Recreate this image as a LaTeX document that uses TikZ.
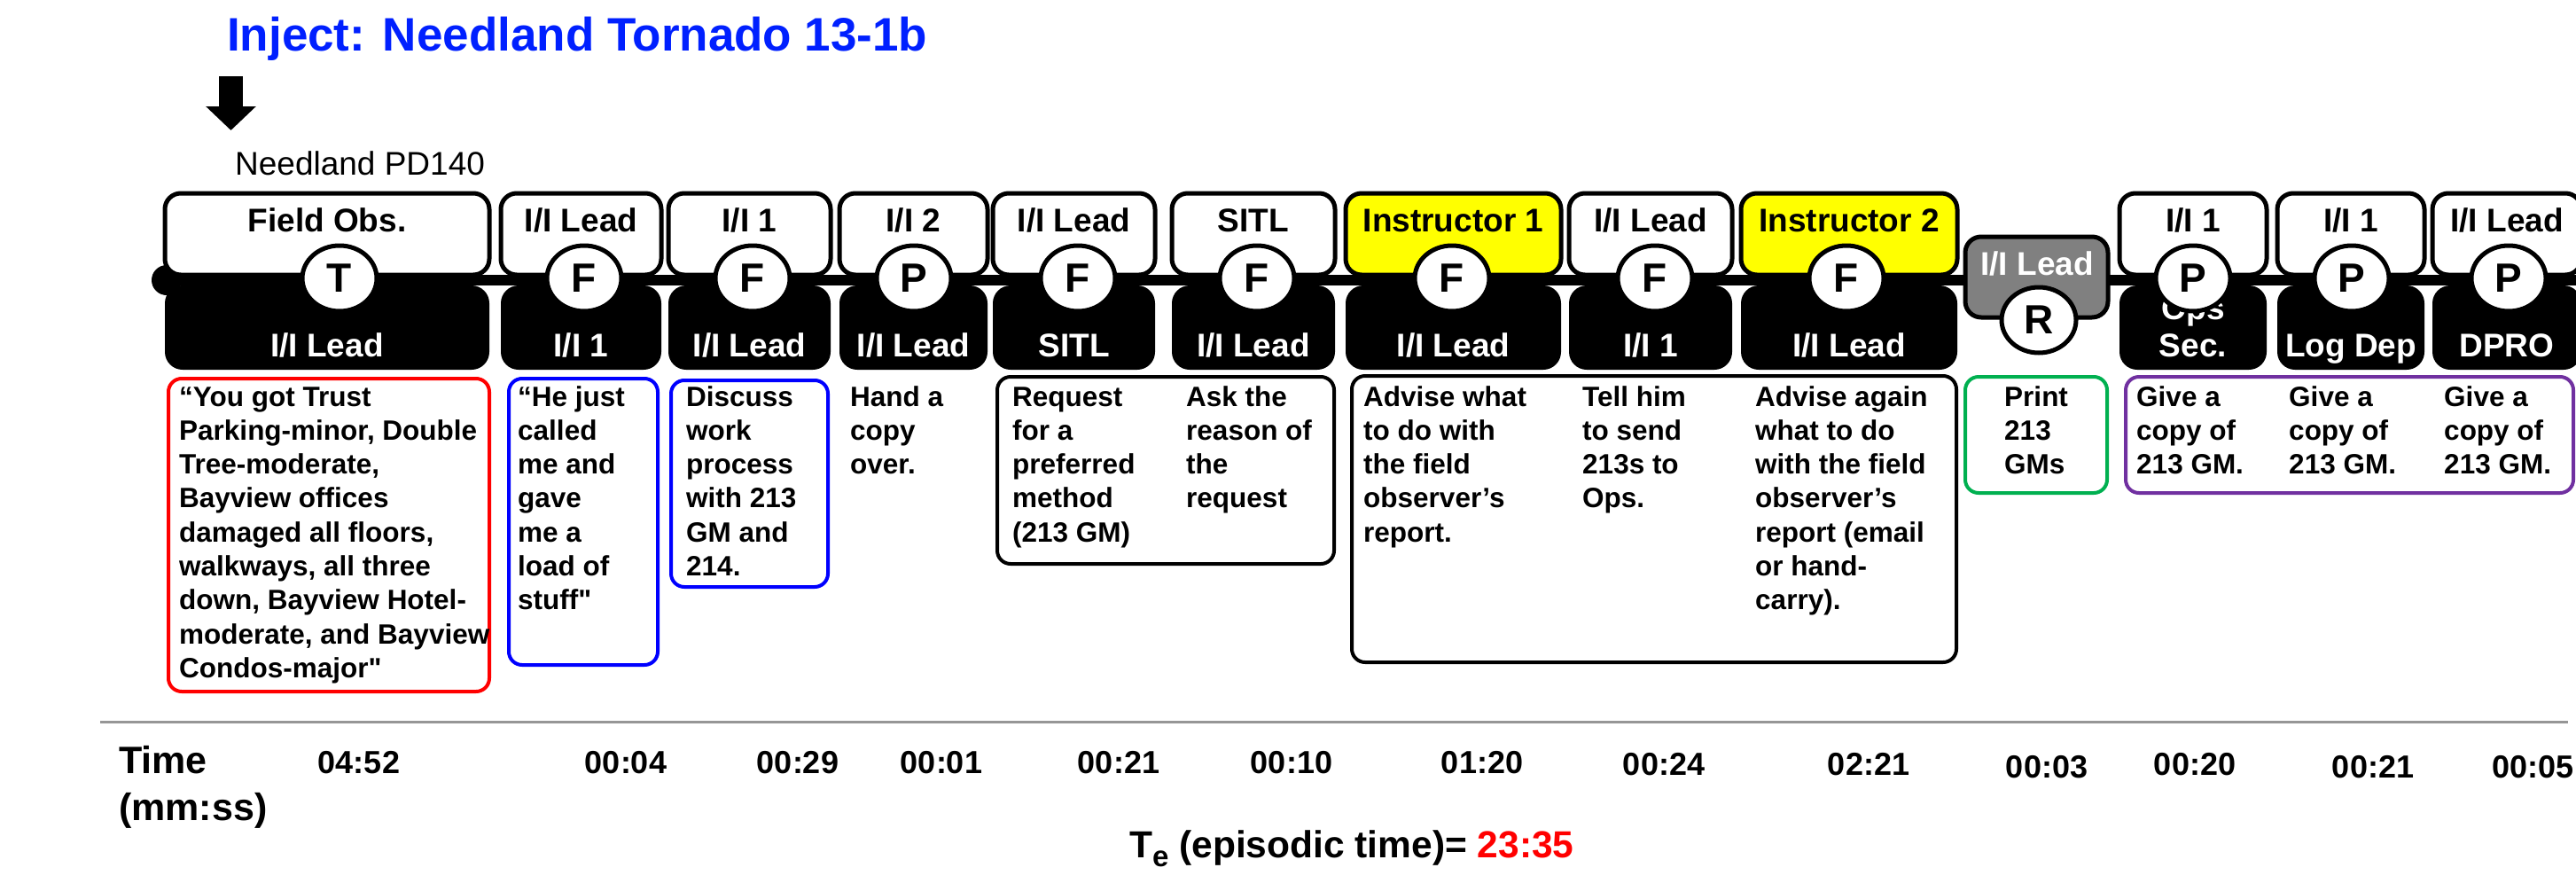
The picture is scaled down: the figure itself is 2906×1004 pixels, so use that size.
\documentclass[tikz,border=0pt]{standalone}
\usepackage{fontspec}
\setmainfont{Liberation Sans}[Ligatures=TeXOff]
\usetikzlibrary{fit,shapes.geometric,arrows.meta}
\definecolor{titleblue}{RGB}{0,32,255}
\definecolor{boxblue}{RGB}{0,0,255}
\definecolor{boxred}{RGB}{255,0,0}
\definecolor{boxgreen}{RGB}{0,176,80}
\definecolor{boxpurple}{RGB}{112,48,160}
\definecolor{instyellow}{RGB}{255,255,0}
\definecolor{rgray}{RGB}{128,128,128}
\definecolor{axisgray}{RGB}{150,150,150}
\newcommand{\fs}[2]{\fontsize{#1}{#2}\selectfont}
\newcommand{\tcol}[6]{%
  \node[topbox, fill=#4, fit={(#2,218) (#3,310)}] (#1t) {};
  \node[botbox, fit={(#2,322) (#3,417)}] (#1b) {};
  \node[toplabel] (#1tl) at ({(#2+#3)/2},261) {#5};
  \node[botlabel] (#1bl) at ({(#2+#3)/2},402) {#6};
}
\newcommand{\mydesc}[3]{%
  \node[anchor=base west, inner sep=0pt] (#1) at #2 {\parbox[t]{400pt}{\raggedright\fs{31.5}{38.3}\bfseries #3}};
}
\begin{document}
\begin{tikzpicture}[x=1pt,y=-1pt,
  topbox/.style={draw=black, line width=5pt, rounded corners=18pt, inner sep=0pt},
  botbox/.style={fill=black, rounded corners=20pt, inner sep=0pt},
  toplabel/.style={font={\fs{37}{44}\bfseries}, anchor=base, inner sep=0pt},
  botlabel/.style={font={\fs{37}{44}\bfseries}, anchor=base, inner sep=0pt, text=white},
  letter/.style={ellipse, draw=black, line width=5pt, fill=white, inner sep=0pt,
    minimum width=84pt, minimum height=74pt, font={\fs{46}{50}\bfseries}},
  descbox/.style={draw=#1, line width=4pt, rounded corners=15pt, inner sep=0pt},
  timeval/.style={font={\fs{36}{42}\bfseries}, anchor=base, inner sep=0pt}
]
\useasboundingbox (0,0) rectangle (2906,1004);
\clip (0,0) rectangle (2906,1004);

% title and inject arrow
\node[anchor=base west, inner sep=0pt, font={\fs{53}{60}\bfseries}, text=titleblue] (title) at (256,57) {Inject: Needland Tornado 13-1b};
\coordinate (arrtop) at (260.5,86);
\coordinate (arrtip) at (260.5,147);
\draw[line width=27pt, -{Triangle[width=55pt,length=27pt]}] (arrtop) -- (arrtip);
\node[anchor=base west, inner sep=0pt, font={\fs{37}{44}}] (pd) at (265,197) {Needland PD140};

% timeline
\node[circle, fill=black, inner sep=0pt, minimum size=34pt] (dot) at (188,316) {};
\coordinate (lineend) at (2906,316);
\draw[line width=12pt] (dot.center) -- (lineend);

% columns
\tcol{c1}{186}{552}{white}{Field Obs.}{I/I Lead}
\tcol{c2}{565}{746}{white}{I/I Lead}{I/I 1}
\tcol{c3}{754}{937}{white}{I/I 1}{I/I Lead}
\tcol{c4}{947}{1114}{white}{I/I 2}{I/I Lead}
\tcol{c5}{1120}{1303}{white}{I/I Lead}{SITL}
\tcol{c6}{1322}{1506}{white}{SITL}{I/I Lead}
\tcol{c7}{1518}{1761}{instyellow}{Instructor 1}{I/I Lead}
\tcol{c8}{1770}{1954}{white}{I/I Lead}{I/I 1}
\tcol{c9}{1964}{2208}{instyellow}{Instructor 2}{I/I Lead}
\tcol{c11}{2391}{2557}{white}{I/I 1}{Sec.}
\tcol{c12}{2569}{2735}{white}{I/I 1}{Log Dep}
\tcol{c13}{2744}{2912}{white}{I/I Lead}{DPRO}
\node[botlabel] (ops) at (2474,360) {Ops};

% gray R box
\node[topbox, fill=rgray, fit={(2217,267) (2378,358)}] (rbox) {};
\node[botlabel] (rlabel) at (2298,310) {I/I Lead};

% letter circles
\foreach \n/\x/\l in {c1/383/T, c2/659/F, c3/849/F, c4/1031/P, c5/1216/F, c6/1418/F,
  c7/1638/F, c8/1867/F, c9/2083/F, c11/2474/P, c12/2653/P, c13/2830/P}
  \node[letter] (\n-circ) at (\x,314) {\l};
\node[letter] (rcirc) at (2300,361) {R};

% description boxes
\node[descbox=boxred, fit={(190,427) (552,780)}] (bred) {};
\node[descbox=boxblue, fit={(574,427) (742,750)}] (bblue1) {};
\node[descbox=boxblue, fit={(757,429) (934,662)}] (bblue2) {};
\node[descbox=black, fit={(1125,425) (1505,636)}] (bblack1) {};
\node[descbox=black, fit={(1525,424) (2207,747)}] (bblack2) {};
\node[descbox=boxgreen, fit={(2217,425) (2377,556)}] (bgreen) {};
\node[descbox=boxpurple, fit={(2398,425) (2903,556)}] (bpurple) {};

\mydesc{d1}{(202,458)}{“You got Trust\\Parking-minor, Double\\Tree-moderate,\\Bayview offices\\damaged all floors,\\walkways, all three\\down, Bayview Hotel-\\moderate, and Bayview\\Condos-major"}
\mydesc{d2}{(584,458)}{“He just\\called\\me and\\gave\\me a\\load of\\stuff"}
\mydesc{d3}{(774,458)}{Discuss\\work\\process\\with 213\\GM and\\214.}
\mydesc{d4}{(959,458)}{Hand a\\copy\\over.}
\mydesc{d5}{(1142,458)}{Request\\for a\\preferred\\method\\(213 GM)}
\mydesc{d6}{(1338,458)}{Ask the\\reason of\\the\\request}
\mydesc{d7}{(1538,458)}{Advise what\\to do with\\the field\\observer’s\\report.}
\mydesc{d8}{(1785,458)}{Tell him\\to send\\213s to\\Ops.}
\mydesc{d9}{(1980,458)}{Advise again\\what to do\\with the field\\observer’s\\report (email\\or hand-\\carry).}
\mydesc{d10}{(2261,458)}{Print\\213\\GMs}
\mydesc{d11}{(2410,458)}{Give a\\copy of\\213 GM.}
\mydesc{d12}{(2582,458)}{Give a\\copy of\\213 GM.}
\mydesc{d13}{(2757,458)}{Give a\\copy of\\213 GM.}

% time axis
\coordinate (axa) at (113,814);
\coordinate (axb) at (2897,814);
\draw[axisgray, line width=3pt] (axa) -- (axb);
\node[anchor=base west, inner sep=0pt] (timehdr) at (134,872) {\parbox[t]{300pt}{\fs{43}{53}\bfseries Time\\(mm:ss)}};
\node[timeval] (tv1) at (405,872) {04:52};
\node[timeval] (tv2) at (706,872) {00:04};
\node[timeval] (tv3) at (900,872) {00:29};
\node[timeval] (tv4) at (1062,872) {00:01};
\node[timeval] (tv5) at (1262,872) {00:21};
\node[timeval] (tv6) at (1457,872) {00:10};
\node[timeval] (tv7) at (1672,872) {01:20};
\node[timeval] (tv8) at (1877,874) {00:24};
\node[timeval] (tv9) at (2108,874) {02:21};
\node[timeval] (tv10) at (2309,877) {00:03};
\node[timeval] (tv11) at (2476,874) {00:20};
\node[timeval] (tv12) at (2677,877) {00:21};
\node[timeval] (tv13) at (2857,877) {00:05};

\node[anchor=base west, inner sep=0pt, font={\fs{42.5}{50}\bfseries}] (te) at (1274,967) {T\raisebox{-10pt}{\fs{33}{36}e} (episodic time)= \textcolor{boxred}{23:35}};
\end{tikzpicture}
\end{document}
